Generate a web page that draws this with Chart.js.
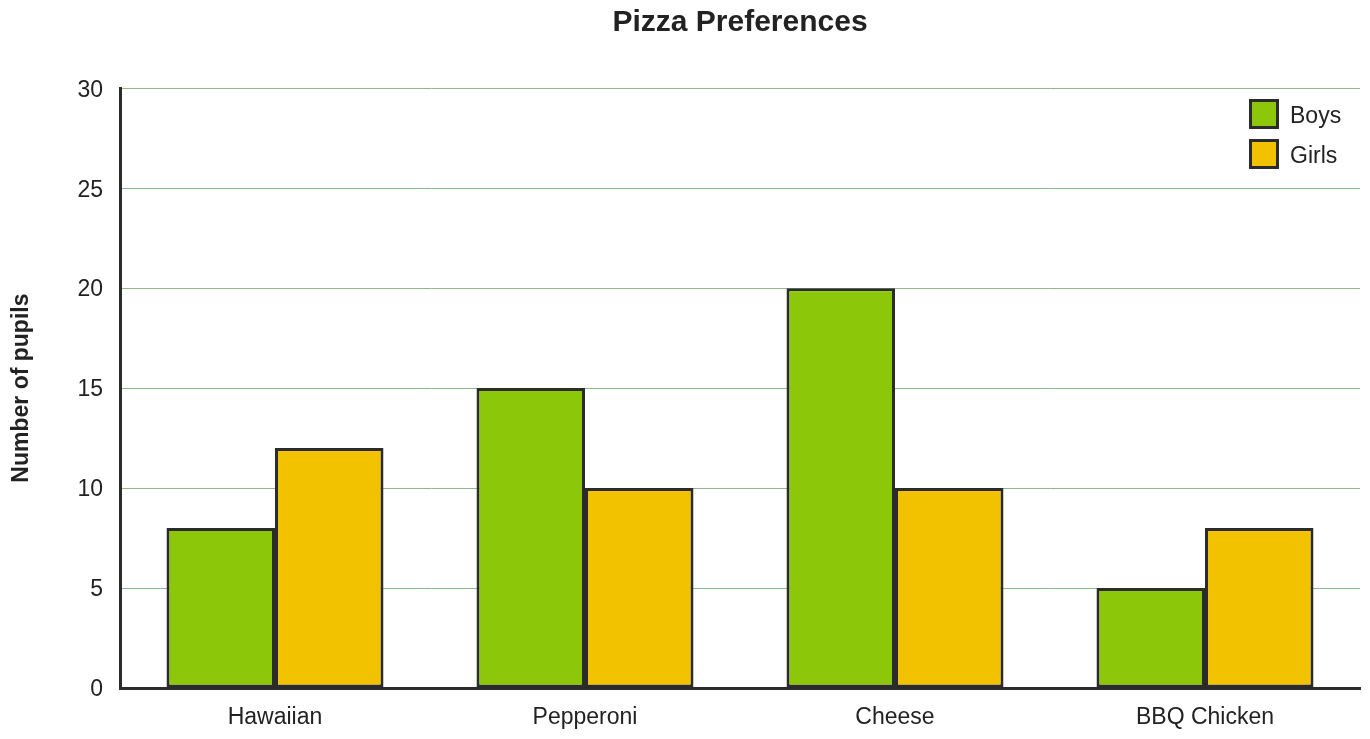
<!DOCTYPE html>
<html>
<head>
<meta charset="utf-8">
<script src="https://cdn.jsdelivr.net/npm/chart.js@4"></script>
<style>
  html, body { margin: 0; padding: 0; background: #fff; }
  #wrap { width: 1370px; height: 739px; }
</style>
</head>
<body>
<div id="wrap"><canvas id="pizzaChart"></canvas></div>
<script>
const categories = ['Hawaiian', 'Pepperoni', 'Cheese', 'BBQ Chicken'];
const boys = [8, 15, 20, 5];
const girls = [12, 10, 10, 8];
const yTicks = [0, 5, 10, 15, 20, 25, 30];

const FONT = "'Liberation Sans', Arial, sans-serif";
const INK = '#222222';

// title centred over the plot area, not the canvas
const plotTitle = {
    id: 'plotTitle',
    afterDraw(chart) {
        const c = chart.ctx;
        const area = chart.chartArea;
        c.save();
        c.font = "bold 30px " + FONT;
        c.fillStyle = INK;
        c.textAlign = 'center';
        c.textBaseline = 'middle';
        c.fillText('Pizza Preferences', (area.left + area.right) / 2, 23);
        c.restore();
    }
};

// legend drawn inside the top right corner of the plot
const insideLegend = {
    id: 'insideLegend',
    afterDraw(chart) {
        const c = chart.ctx;
        const sets = chart.data.datasets;
        c.save();
        c.font = "23px " + FONT;
        c.textBaseline = 'middle';
        sets.forEach(function (ds, i) {
            const x = 1249;
            const y = 99 + i * 40;
            c.fillStyle = ds.backgroundColor;
            c.fillRect(x, y, 30, 30);
            c.lineWidth = 3;
            c.strokeStyle = ds.borderColor;
            c.strokeRect(x + 1.5, y + 1.5, 27, 27);
            c.fillStyle = INK;
            c.fillText(ds.label, x + 41, y + 18);
        });
        c.restore();
    }
};

const ctx = document.getElementById('pizzaChart').getContext('2d');
new Chart(ctx, {
    type: 'bar',
    data: {
        labels: categories,
        datasets: [{
            label: 'Boys',
            data: boys,
            backgroundColor: '#8cc809',
            borderColor: '#2b2b2b',
            borderWidth: 3,
            borderSkipped: false
        }, {
            label: 'Girls',
            data: girls,
            backgroundColor: '#f2c200',
            borderColor: '#2b2b2b',
            borderWidth: 3,
            borderSkipped: false
        }]
    },
    options: {
        responsive: true,
        maintainAspectRatio: false,
        animation: false,
        layout: { padding: { top: 88.2, right: 10, left: 0, bottom: 0 } },
        datasets: {
            bar: { categoryPercentage: 0.7, barPercentage: 1.0 }
        },
        plugins: {
            legend: { display: false },
            title: { display: false },
            tooltip: { enabled: false }
        },
        scales: {
            x: {
                grid: { display: false, drawTicks: false },
                border: { display: true, color: '#2b2b2b', width: 3 },
                ticks: { color: INK, font: { family: FONT, size: 23 }, padding: 16 },
                afterFit(scale) { scale.height = 51; }
            },
            y: {
                min: 0,
                max: 30,
                afterBuildTicks(scale) {
                    scale.ticks = yTicks.map(v => ({ value: v }));
                },
                grid: { color: '#8dba8d', lineWidth: 1, drawTicks: false },
                border: { display: true, color: '#2b2b2b', width: 3 },
                ticks: { color: INK, font: { family: FONT, size: 23 }, padding: 17, labelOffset: 2 },
                title: {
                    display: true,
                    text: 'Number of pupils',
                    color: INK,
                    font: { family: FONT, size: 23, weight: 'bold' },
                    padding: { top: 8, bottom: 0 }
                },
                afterFit(scale) { scale.width = 120; }
            }
        }
    },
    plugins: [plotTitle, insideLegend]
});
</script>
</body>
</html>
